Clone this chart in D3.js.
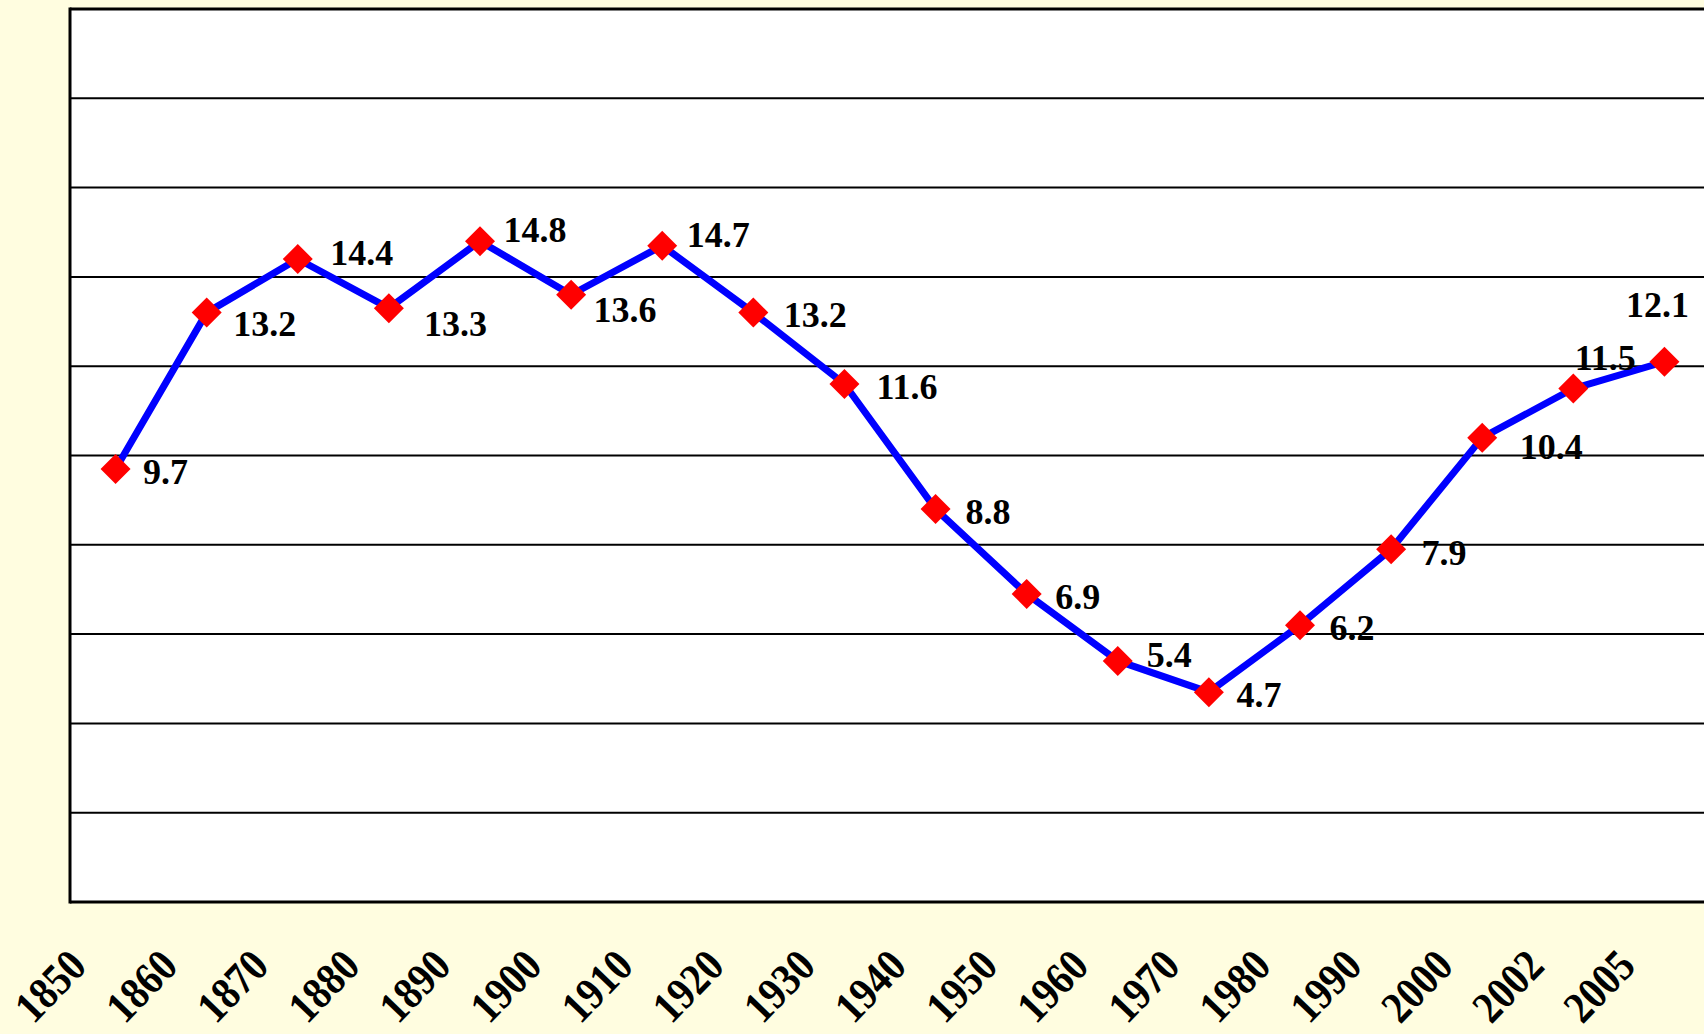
<!DOCTYPE html>
<html>
<head>
<meta charset="utf-8">
<script src="https://cdn.jsdelivr.net/npm/d3@7"></script>
<style>
  html, body { margin: 0; padding: 0; background: #FFFDE0; }
  svg { display: block; }
</style>
</head>
<body>
<svg id="chart" width="1704" height="1034"></svg>
<script>
// Years on the category axis and the value recorded for each
const years = ["1850","1860","1870","1880","1890","1900","1910","1920","1930","1940",
               "1950","1960","1970","1980","1990","2000","2002","2005"];
const values = [9.7, 13.2, 14.4, 13.3, 14.8, 13.6, 14.7, 13.2, 11.6, 8.8,
                6.9, 5.4, 4.7, 6.2, 7.9, 10.4, 11.5, 12.1];
// Horizontal gridline values
const gridValues = [0, 2, 4, 6, 8, 10, 12, 14, 16, 18, 20];

// Per-label nudges (centre of each value label relative to its marker)
const labelNudge = [[50,2.5],[58,11.5],[64,-6.5],[66.5,16],[55,-11],[54,14.5],[56,-10.5],[62,2],[62.5,2.5],[52.5,2.5],
                    [51,2.5],[51.5,-6],[50,2.5],[52,2.5],[53,3],[69,9.5],[32,-30.5],[-7,-57]];

const svg = d3.select("#chart");
const plotLeft = 70, plotRight = 1710, plotTop = 9, plotBottom = 902;
const font = "'Liberation Serif', 'Times New Roman', serif";
const valueFontSize = 36;

const x = d3.scalePoint().domain(years).range([plotLeft, plotRight]).padding(0.5);
const y = d3.scaleLinear().domain([0, 20]).range([plotBottom, plotTop]);

// Plot area
svg.append("rect")
  .attr("x", plotLeft).attr("y", plotTop)
  .attr("width", plotRight - plotLeft).attr("height", plotBottom - plotTop)
  .attr("fill", "#ffffff");

// Gridlines
svg.append("g")
  .selectAll("line")
  .data(gridValues)
  .join("line")
  .attr("x1", plotLeft).attr("x2", plotRight)
  .attr("y1", d => y(d)).attr("y2", d => y(d))
  .attr("stroke", "#000")
  .attr("stroke-width", d => (d === 0 || d === 20) ? 3 : 2);

// Left axis line
svg.append("line")
  .attr("x1", plotLeft).attr("x2", plotLeft)
  .attr("y1", plotTop - 1.5).attr("y2", plotBottom + 1.5)
  .attr("stroke", "#000").attr("stroke-width", 3);

// Series line
const line = d3.line()
  .x((d, i) => x(years[i]))
  .y(d => y(d));

svg.append("path")
  .datum(values)
  .attr("d", line)
  .attr("fill", "none")
  .attr("stroke", "#0000FF")
  .attr("stroke-width", 7)
  .attr("stroke-linejoin", "round");

// Diamond markers
const diamond = d3.symbol().type(d3.symbolSquare).size(450);
svg.append("g")
  .selectAll("path")
  .data(values)
  .join("path")
  .attr("d", diamond)
  .attr("transform", (d, i) => `translate(${x(years[i])},${y(d)}) rotate(45)`)
  .attr("fill", "#FF0000");

// Value labels (baseline sits about a third of an em below the visual centre)
svg.append("g")
  .selectAll("text")
  .data(values)
  .join("text")
  .attr("x", (d, i) => x(years[i]) + labelNudge[i][0])
  .attr("y", (d, i) => y(d) + labelNudge[i][1] + valueFontSize * 0.34)
  .attr("text-anchor", "middle")
  .attr("font-family", font)
  .attr("font-weight", "bold")
  .attr("font-size", valueFontSize)
  .attr("fill", "#000")
  .text(d => d.toFixed(1));

// Category labels, slanted and slightly condensed
svg.append("g")
  .selectAll("text")
  .data(years)
  .join("text")
  .attr("transform", d => `translate(${x(d) - 27},${968}) rotate(-46) scale(0.88,1)`)
  .attr("text-anchor", "end")
  .attr("font-family", font)
  .attr("font-weight", "bold")
  .attr("font-size", 45)
  .attr("fill", "#000")
  .text(d => d);
</script>
</body>
</html>
